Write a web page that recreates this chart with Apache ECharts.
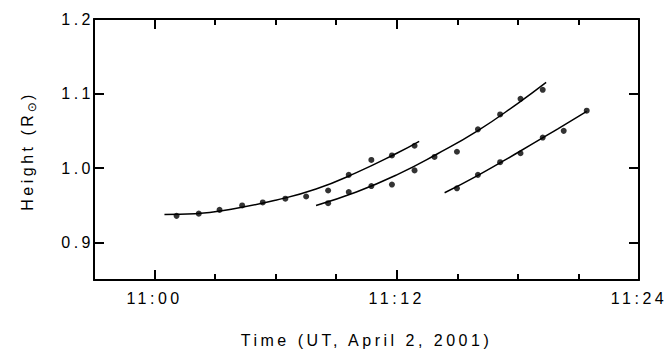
<!DOCTYPE html>
<html><head><meta charset="utf-8">
<script src="https://cdn.jsdelivr.net/npm/echarts@6/dist/echarts.min.js"></script>
<style>
html,body{margin:0;padding:0;background:#fff}
#c{width:671px;height:353px}
#c svg text{letter-spacing:3.5px}
</style>
</head><body><div id="c"></div>
<script>
// x values are minutes after 11:00 UT
const xMajorTicks = [0, 12, 24];
const xMinorTicks = [3, 6, 9, 15, 18, 21];
const xTickLabels = ['11:00', '11:12', '11:24'];
const yTicks = [0.9, 1.0, 1.1, 1.2];
const yTickLabels = ['0.9', '1.0', '1.1', '1.2'];

// measured points
const t1 = [1.09, 2.19, 3.22, 4.34, 5.36, 6.48, 7.51, 8.60, 9.62, 10.74, 11.76, 12.88];
const h1 = [0.936, 0.939, 0.944, 0.950, 0.954, 0.959, 0.962, 0.970, 0.991, 1.011, 1.017, 1.030];
const t2 = [8.60, 9.62, 10.74, 11.76, 12.88, 13.87, 14.98, 16.02, 17.12, 18.13, 19.23];
const h2 = [0.953, 0.968, 0.976, 0.978, 0.997, 1.015, 1.022, 1.052, 1.072, 1.093, 1.105];
const t3 = [14.98, 16.02, 17.12, 18.13, 19.23, 20.27, 21.41];
const h3 = [0.973, 0.991, 1.008, 1.020, 1.041, 1.050, 1.077];

// fitted curves
const fitT1 = [0.49, 2.0, 4.0, 6.0, 8.0, 10.0, 12.0, 13.11];
const fitH1 = [0.938, 0.939, 0.946, 0.957, 0.972, 0.994, 1.020, 1.036];
const fitT2 = [8.0, 10.0, 12.0, 14.0, 16.0, 18.0, 19.4];
const fitH2 = [0.950, 0.968, 0.991, 1.019, 1.050, 1.087, 1.115];
const fitT3 = [14.37, 16.0, 18.0, 20.0, 21.41];
const fitH3 = [0.967, 0.990, 1.021, 1.053, 1.076];

const zip = (a, b) => a.map((v, i) => [v, b[i]]);
const FONT = 'Liberation Sans';
const BLACK = '#000';

const chart = echarts.init(document.getElementById('c'), null, {renderer: 'svg'});

const xBase = {type: 'value', min: -3, max: 24, gridIndex: 0, splitLine: {show: false}};
const yBase = {type: 'value', min: 0.85, max: 1.2, gridIndex: 0, splitLine: {show: false}};
const lineOn = {show: true, onZero: false, lineStyle: {color: BLACK, width: 2}};
const lineOff = {show: false, onZero: false};

const option = {
  backgroundColor: '#fff',
  animation: false,
  grid: {left: 94, right: 32, top: 19, bottom: 72, containLabel: false},
  xAxis: [
    Object.assign({}, xBase, {
      position: 'bottom',
      axisLine: lineOn,
      axisTick: {show: true, inside: true, length: 10, customValues: xMajorTicks, lineStyle: {color: BLACK, width: 2}},
      axisLabel: {show: true, customValues: xMajorTicks, margin: 10, color: BLACK, fontSize: 16, fontFamily: FONT,
        formatter: v => xTickLabels[xMajorTicks.indexOf(v)]},
      name: 'Time (UT, April 2, 2001)', nameLocation: 'middle', nameGap: 52,
      nameTextStyle: {color: BLACK, fontSize: 16, fontFamily: FONT}
    }),
    Object.assign({}, xBase, {
      position: 'bottom',
      axisLine: lineOff,
      axisTick: {show: true, inside: true, length: 6, customValues: xMinorTicks, lineStyle: {color: BLACK, width: 2}},
      axisLabel: {show: false}
    }),
    Object.assign({}, xBase, {
      position: 'top',
      axisLine: lineOn,
      axisTick: {show: true, inside: true, length: 10, customValues: xMajorTicks, lineStyle: {color: BLACK, width: 2}},
      axisLabel: {show: false}
    }),
    Object.assign({}, xBase, {
      position: 'top',
      axisLine: lineOff,
      axisTick: {show: true, inside: true, length: 6, customValues: xMinorTicks, lineStyle: {color: BLACK, width: 2}},
      axisLabel: {show: false}
    })
  ],
  yAxis: [
    Object.assign({}, yBase, {
      position: 'left',
      axisLine: lineOn,
      axisTick: {show: true, inside: true, length: 10, customValues: yTicks, lineStyle: {color: BLACK, width: 2}},
      axisLabel: {show: true, customValues: yTicks, margin: 0, color: BLACK, fontSize: 16, fontFamily: FONT,
        formatter: v => yTickLabels[yTicks.findIndex(x => Math.abs(x - v) < 1e-6)]},
      name: '{a|Height (R}{s|⊙}{b|)}', nameLocation: 'middle', nameGap: 56, nameRotate: 90,
      nameTextStyle: {color: BLACK, fontSize: 16, fontFamily: FONT, padding: [0, 0, 0, 11],
        rich: {
          a: {fontSize: 16, fontFamily: FONT, color: BLACK, lineHeight: 22},
          s: {fontSize: 12, fontFamily: 'DejaVu Sans', color: BLACK, lineHeight: 12, verticalAlign: 'bottom', padding: [0, 0, 0, 17]},
          b: {fontSize: 16, fontFamily: FONT, color: BLACK, lineHeight: 22, padding: [0, 0, 0, 2]}
        }}
    }),
    Object.assign({}, yBase, {
      position: 'right',
      axisLine: lineOn,
      axisTick: {show: true, inside: true, length: 10, customValues: yTicks, lineStyle: {color: BLACK, width: 2}},
      axisLabel: {show: false}
    })
  ],
  series: [
    {type: 'line', data: zip(fitT1, fitH1), smooth: true, showSymbol: false, lineStyle: {color: BLACK, width: 1.5}},
    {type: 'line', data: zip(fitT2, fitH2), smooth: true, showSymbol: false, lineStyle: {color: BLACK, width: 1.5}},
    {type: 'line', data: zip(fitT3, fitH3), smooth: true, showSymbol: false, lineStyle: {color: BLACK, width: 1.5}},
    {type: 'scatter', data: zip(t1, h1), symbol: 'circle', symbolSize: 6, itemStyle: {color: BLACK}},
    {type: 'scatter', data: zip(t2, h2), symbol: 'circle', symbolSize: 6, itemStyle: {color: BLACK}},
    {type: 'scatter', data: zip(t3, h3), symbol: 'circle', symbolSize: 6, itemStyle: {color: BLACK}}
  ]
};
chart.setOption(option);
</script>
</body></html>
